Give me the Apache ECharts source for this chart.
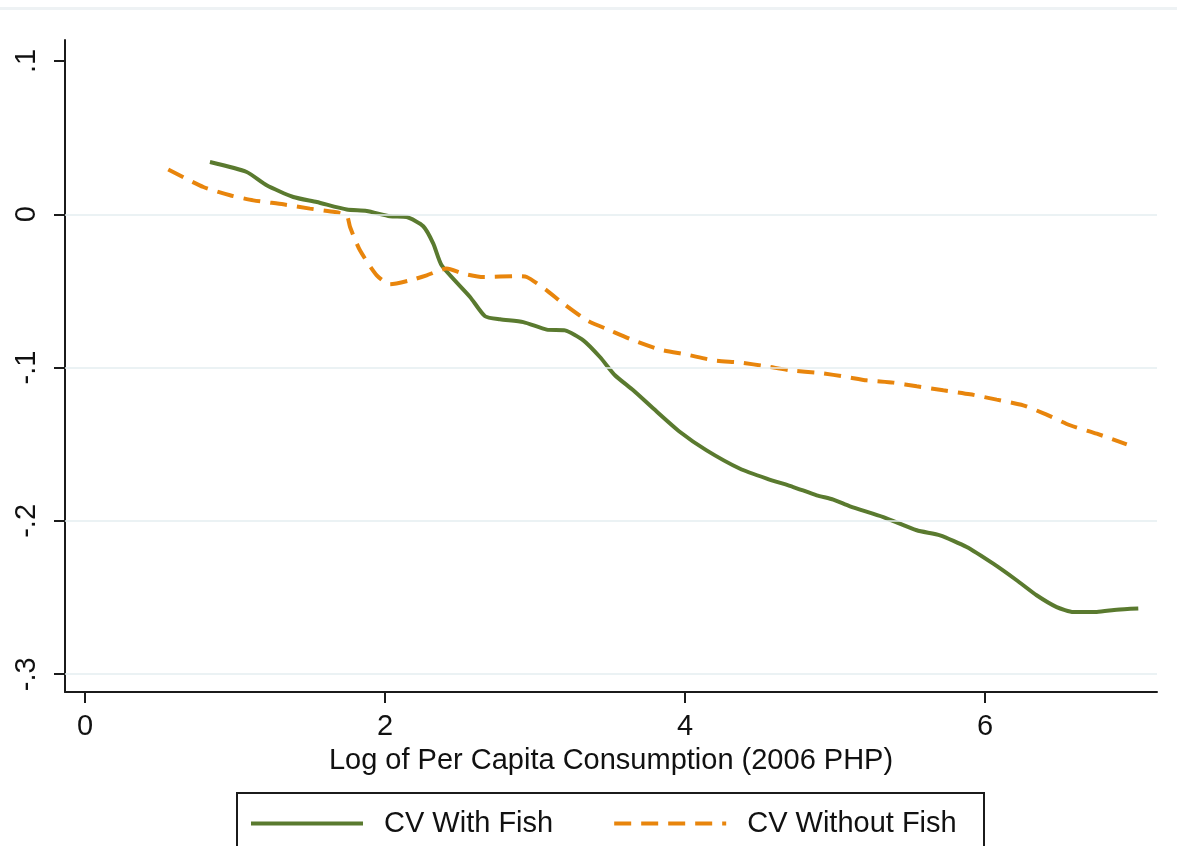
<!DOCTYPE html>
<html lang="en">

<head>
    <meta charset="UTF-8">
    <title>CV with / without fish</title>
    <script src="https://cdn.jsdelivr.net/npm/echarts@6/dist/echarts.min.js"></script>
    <style>
        html, body { margin: 0; padding: 0; background: #fff; }
    </style>
</head>

<body>
<div id="main" style="width: 1177px; height: 846px;"></div>
<script>
    // curve 1: CV With Fish  [log consumption, cv]
    const withFish = [
        [0.833, 0.0341], [1.078, 0.0276], [1.211, 0.0189], [1.389, 0.0113], [1.545, 0.0080],
        [1.745, 0.0031], [1.878, 0.0022], [2.033, -0.0013], [2.145, -0.0018], [2.255, -0.0078],
        [2.322, -0.0191], [2.378, -0.0333], [2.567, -0.0539], [2.667, -0.0665], [2.767, -0.0685],
        [2.922, -0.0703], [3.078, -0.0752], [3.2, -0.0757], [3.322, -0.0822], [3.433, -0.0931],
        [3.533, -0.105], [3.655, -0.1148], [3.789, -0.1267], [3.967, -0.142], [4.144, -0.154],
        [4.367, -0.166], [4.545, -0.1724], [4.722, -0.1779], [4.878, -0.1833], [4.989, -0.1861],
        [5.1, -0.1905], [5.322, -0.1975], [5.545, -0.2061], [5.7, -0.2094], [5.878, -0.217],
        [6.055, -0.2279], [6.211, -0.2387], [6.344, -0.2485], [6.478, -0.2562], [6.589, -0.2594],
        [6.745, -0.2594], [6.878, -0.2579], [7.022, -0.2572]
    ]

    // curve 2: CV Without Fish
    const withoutFish = [
        [0.555, 0.0292], [0.789, 0.0178], [0.967, 0.0124], [1.122, 0.0091], [1.322, 0.0065],
        [1.5, 0.0037], [1.667, 0.0015], [1.745, -0.0007], [1.767, -0.0083], [1.833, -0.0235],
        [1.945, -0.0398], [2.033, -0.0457], [2.167, -0.0431], [2.278, -0.0398], [2.411, -0.0354],
        [2.522, -0.0387], [2.655, -0.0409], [2.878, -0.0404], [2.945, -0.0409], [3.078, -0.0496],
        [3.189, -0.0583], [3.345, -0.0691], [3.5, -0.0757], [3.655, -0.0822], [3.833, -0.0883],
        [4.011, -0.0915], [4.189, -0.0952], [4.367, -0.0967], [4.545, -0.0992], [4.7, -0.1018],
        [4.9, -0.1035], [5.078, -0.1061], [5.211, -0.1083], [5.389, -0.1098], [5.545, -0.1122],
        [5.722, -0.1148], [5.9, -0.1174], [6.078, -0.1209], [6.255, -0.1246], [6.411, -0.1307],
        [6.567, -0.1376], [6.745, -0.1431], [6.945, -0.15]
    ]

    const xTicks = [0, 2, 4, 6]
    const yTicks = [-0.3, -0.2, -0.1, 0, 0.1]
    const yTickLabels = ['-.3', '-.2', '-.1', '0', '.1']
    const gridValues = [-0.3, -0.2, -0.1, 0]

    const font = 'Liberation Sans, Arial, sans-serif'
    const axisColor = '#1b1b1b'
    const fs = 29

    const chart = echarts.init(document.getElementById('main'))
    chart.setOption({
        animation: false,
        backgroundColor: '#fff',
        grid: { left: 65, right: 20, top: 40, bottom: 154 },
        xAxis: {
            type: 'value',
            min: -0.1333,
            max: 7.1467,
            name: 'Log of Per Capita Consumption (2006 PHP)',
            nameLocation: 'middle',
            nameGap: 54,
            nameTextStyle: { fontFamily: font, fontSize: fs, color: '#111' },
            axisLine: { onZero: false, lineStyle: { color: axisColor, width: 2 } },
            axisTick: { length: 11, lineStyle: { color: axisColor, width: 2 }, customValues: xTicks },
            axisLabel: { margin: 20, fontFamily: font, fontSize: fs, color: '#111', customValues: xTicks },
            splitLine: { show: false }
        },
        yAxis: {
            type: 'value',
            min: -0.3116,
            max: 0.1137,
            axisLine: { onZero: false, lineStyle: { color: axisColor, width: 2 } },
            axisTick: { length: 11, lineStyle: { color: axisColor, width: 2 }, customValues: yTicks },
            axisLabel: {
                rotate: 90,
                margin: 24,
                fontFamily: font,
                fontSize: fs,
                color: '#111',
                customValues: yTicks,
                formatter: function (v) {
                    const i = yTicks.findIndex(t => Math.abs(t - v) < 1e-6)
                    return i >= 0 ? yTickLabels[i] : ''
                }
            },
            splitLine: { show: false }
        },
        legend: {
            left: 244,
            top: 804,
            itemWidth: 112,
            itemHeight: 14,
            itemGap: 59,
            itemStyle: { opacity: 0 },
            lineStyle: { width: 4 },
            textStyle: { fontFamily: font, fontSize: fs, color: '#111', padding: [0, 0, 0, 16] },
            data: ['CV With Fish', 'CV Without Fish']
        },
        graphic: [
            {
                type: 'rect',
                shape: { x: 237, y: 793, width: 747, height: 80 },
                style: { fill: 'none', stroke: '#1b1b1b', lineWidth: 2 }
            },
            {
                type: 'rect',
                shape: { x: 0, y: 7, width: 1177, height: 3 },
                style: { fill: '#eef2f4' }
            }
        ],
        series: [
            {
                // gridlines only
                type: 'line',
                data: [],
                silent: true,
                z: 1,
                markLine: {
                    silent: true,
                    symbol: 'none',
                    label: { show: false },
                    lineStyle: { color: '#e4eef1', width: 1.5, type: 'solid' },
                    data: gridValues.map(v => ({ yAxis: v }))
                }
            },
            {
                name: 'CV With Fish',
                type: 'line',
                data: withFish,
                showSymbol: false,
                symbol: 'none',
                smooth: 0.2,
                z: 3,
                lineStyle: { color: '#5a7a2f', width: 4 },
                itemStyle: { color: '#5a7a2f' }
            },
            {
                name: 'CV Without Fish',
                type: 'line',
                data: withoutFish,
                showSymbol: false,
                symbol: 'none',
                smooth: 0.2,
                z: 3,
                lineStyle: { color: '#e8850c', width: 4, type: [17, 10] },
                itemStyle: { color: '#e8850c' }
            }
        ]
    })
</script>
</body>

</html>
